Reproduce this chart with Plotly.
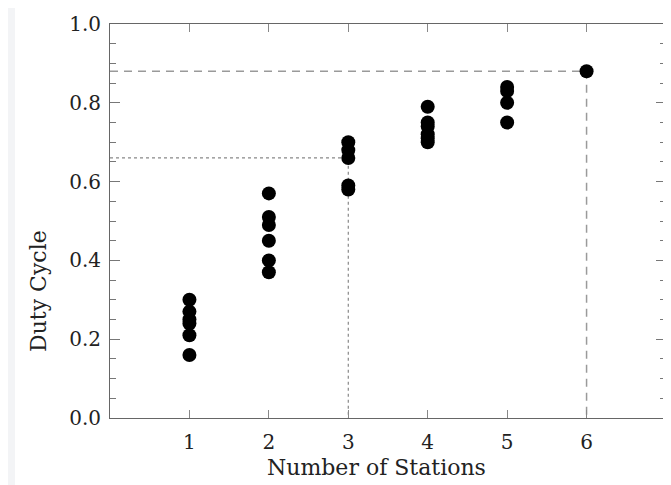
import plotly.graph_objects as go

# Data
stations = [1, 2, 3, 4, 5, 6]
duty_1 = [0.30, 0.27, 0.25, 0.24, 0.21, 0.16]
duty_2 = [0.57, 0.51, 0.49, 0.45, 0.40, 0.37]
duty_3 = [0.70, 0.68, 0.66, 0.59, 0.58]
duty_4 = [0.79, 0.75, 0.74, 0.72, 0.71, 0.70]
duty_5 = [0.84, 0.83, 0.80, 0.75]
duty_6 = [0.88]
groups = [duty_1, duty_2, duty_3, duty_4, duty_5, duty_6]

x_ticks = [1, 2, 3, 4, 5, 6]
y_ticks = [0.0, 0.2, 0.4, 0.6, 0.8, 1.0]
y_ticklabels = ["0.0", "0.2", "0.4", "0.6", "0.8", "1.0"]

# reference guide lines
dotted_station, dotted_value = 3, 0.66
dashed_station, dashed_value = 6, 0.88

xs, ys = [], []
for s, vals in zip(stations, groups):
    for v in vals:
        xs.append(s)
        ys.append(v)

FONT = "DejaVu Serif"
TXT = "#222222"

W, H = 663, 477
L, R, T, B = 102, 5, 16, 67
PW, PH = W - L - R, H - T - B

fig = go.Figure()

# dotted guide
fig.add_trace(go.Scatter(x=[0, dotted_station, dotted_station], y=[dotted_value, dotted_value, 0],
                         mode="lines", line=dict(color="#888888", width=1.2, dash="dot"),
                         hoverinfo="skip", showlegend=False))
# dashed guide
fig.add_trace(go.Scatter(x=[0, dashed_station, dashed_station], y=[dashed_value, dashed_value, 0],
                         mode="lines", line=dict(color="#9a9a9a", width=1.5, dash="8px,6px"),
                         hoverinfo="skip", showlegend=False))
fig.add_trace(go.Scatter(x=xs, y=ys, mode="markers",
                         marker=dict(color="black", size=14, line=dict(width=0)),
                         showlegend=False))

fig.update_layout(
    width=W, height=H,
    margin=dict(l=L, r=R, t=T, b=B),
    paper_bgcolor="#f3f4f6",
    plot_bgcolor="white",
    font=dict(family=FONT, size=20, color=TXT),
    shapes=[dict(type="rect", xref="paper", yref="paper",
                 x0=(7 - L) / PW, x1=(W - L) / PW + 0.05,
                 y0=-(B + 20) / PH, y1=(PH + T + 20) / PH,
                 fillcolor="white", line=dict(width=0), layer="below")],
    annotations=[
        dict(text="Number of Stations", xref="paper", yref="paper", x=(368 - L) / PW,
             y=-(459 - (T + PH)) / PH,
             showarrow=False, xanchor="center", yanchor="middle",
             font=dict(family=FONT, size=22, color=TXT)),
        dict(text="Duty Cycle", xref="paper", yref="paper", x=(30 - L) / PW, y=(T + PH - 283) / PH,
             showarrow=False, xanchor="center", yanchor="middle", textangle=-90,
             font=dict(family=FONT, size=22, color=TXT)),
    ],
)

fig.update_xaxes(range=[0, 7], tickvals=x_ticks, ticktext=[str(t) for t in x_ticks],
                 ticks="inside", ticklen=8, tickcolor="#888888", tickwidth=1,
                 showline=True, linecolor="#666666", linewidth=1, mirror="ticks",
                 showgrid=False, zeroline=False, ticklabelstandoff=6)
fig.update_yaxes(range=[0, 1.0], tickvals=y_ticks, ticktext=y_ticklabels,
                 ticks="inside", ticklen=10, tickcolor="#777777", tickwidth=1,
                 minor=dict(dtick=0.05, tick0=0, ticks="inside", ticklen=6, tickcolor="#777777", showgrid=False),
                 showline=True, linecolor="#666666", linewidth=1, mirror="ticks",
                 showgrid=False, zeroline=False, ticklabelstandoff=4)

fig.write_html("out.html")
